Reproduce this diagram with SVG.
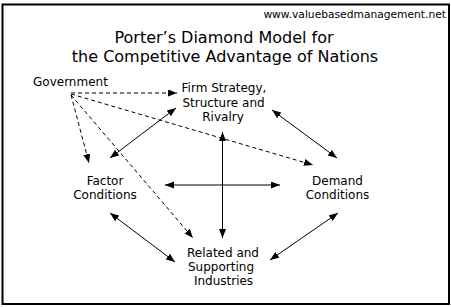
<svg xmlns="http://www.w3.org/2000/svg" width="451" height="307" viewBox="0 0 451 307">
<style>
text{font-family:"DejaVu Sans",Verdana,sans-serif;fill:#000}
.lbl{font-size:12px;text-anchor:middle}
.title{font-size:16px;text-anchor:middle}
.solid{stroke:#000;stroke-width:1;fill:none;marker-start:url(#ah);marker-end:url(#ah)}
.dash{stroke:#000;stroke-width:1;fill:none;stroke-dasharray:4 3;marker-end:url(#ah)}
</style>
<defs>
<marker id="ah" markerUnits="userSpaceOnUse" markerWidth="10" markerHeight="8" refX="9" refY="3.5" orient="auto-start-reverse">
<path d="M0,0 L9,3.5 L0,7 z" fill="#000"/>
</marker>
</defs>
<rect x="2.5" y="4.5" width="446.5" height="299.5" fill="#fff" stroke="#000" stroke-width="2"/>
<text x="446" y="18" font-size="10.7" text-anchor="end">www.valuebasedmanagement.net</text>
<text class="title" x="224" y="43">Porter’s Diamond Model for</text>
<text class="title" x="225" y="62">the Competitive Advantage of Nations</text>
<g id="connectors">
<line class="dash" x1="71" y1="93" x2="177" y2="93"/>
<line class="dash" x1="71" y1="94" x2="313" y2="165"/>
<line class="dash" x1="71" y1="95" x2="89" y2="163"/>
<line class="dash" x1="71" y1="95" x2="193" y2="238"/>
<line class="solid" x1="110" y1="158" x2="176" y2="108"/>
<line class="solid" x1="272" y1="110" x2="337" y2="158"/>
<line class="solid" x1="110" y1="213" x2="175" y2="262"/>
<line class="solid" x1="338" y1="213" x2="270" y2="260"/>
<line class="solid" x1="165" y1="185" x2="280" y2="185"/>
<line class="solid" x1="222.5" y1="132" x2="222.5" y2="238"/>
</g>
<g id="government"><text x="33" y="86" font-size="12">Government</text></g>
<g id="firm">
<text class="lbl" x="224" y="92">Firm Strategy,</text>
<text class="lbl" x="223.5" y="106.5">Structure and</text>
<text class="lbl" x="223" y="121">Rivalry</text>
</g>
<g id="factor">
<text class="lbl" x="105" y="185">Factor</text>
<text class="lbl" x="105" y="199">Conditions</text>
</g>
<g id="demand">
<text class="lbl" x="337.5" y="185">Demand</text>
<text class="lbl" x="337.5" y="199">Conditions</text>
</g>
<g id="related">
<text class="lbl" x="223" y="257">Related and</text>
<text class="lbl" x="221" y="271">Supporting</text>
<text class="lbl" x="223.5" y="285">Industries</text>
</g>
</svg>
